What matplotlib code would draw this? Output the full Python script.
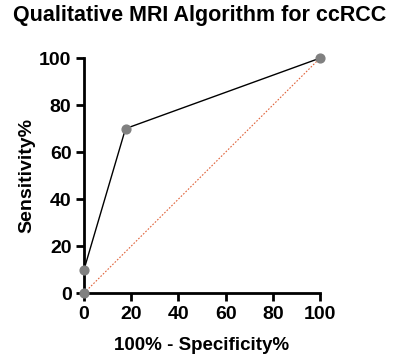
import matplotlib.pyplot as plt

plt.rcParams['font.family'] = ['Liberation Sans', 'DejaVu Sans']
plt.rcParams['font.weight'] = 'bold'

fpr = [0, 0, 17.6, 100]
tpr = [0, 10, 70, 100]
ref_line = [0, 100]
ticks = [0, 20, 40, 60, 80, 100]

fig = plt.figure(figsize=(4.0, 3.61), dpi=100)
ax = fig.add_axes([0.21, 0.188, 0.59, 0.651])

ax.plot(ref_line, ref_line, color="#e0643c", linestyle=(0, (1.5, 1.5)), linewidth=0.8, zorder=1)
ax.plot(fpr, tpr, color="black", linewidth=1.0, zorder=2)
ax.scatter(fpr, tpr, s=40, color="#808080", zorder=3, clip_on=False)

ax.set_xlim(0, 100)
ax.set_ylim(0, 100)
ax.set_xticks(ticks)
ax.set_yticks(ticks)
for s in ["top", "right"]:
    ax.spines[s].set_visible(False)
for s in ["left", "bottom"]:
    ax.spines[s].set_linewidth(2)
ax.tick_params(width=2, length=6, labelsize=14, pad=3)
for lab in ax.get_xticklabels() + ax.get_yticklabels():
    lab.set_fontweight("bold")

ax.set_xlabel("100% - Specificity%", fontsize=13.5, fontweight="bold", labelpad=10)
ax.set_ylabel("Sensitivity%", fontsize=14, fontweight="bold", labelpad=3)
fig.suptitle("Qualitative MRI Algorithm for ccRCC", fontsize=15.5, fontweight="bold", x=0.5, y=0.985)

fig.savefig("out.png", dpi=100)
